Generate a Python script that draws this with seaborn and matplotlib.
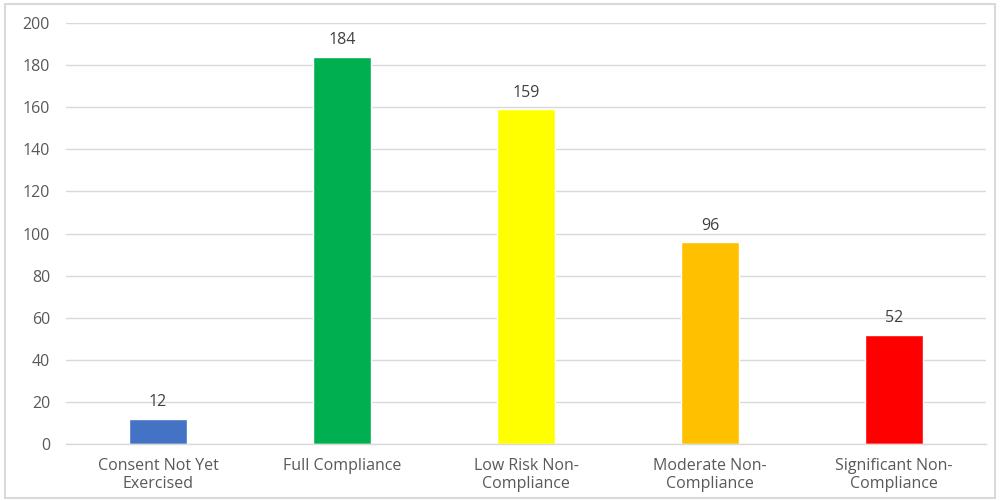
import matplotlib
matplotlib.use("Agg")
import matplotlib.pyplot as plt
import seaborn as sns
import pandas as pd
from matplotlib.patches import Rectangle

categories = ["Consent Not Yet\nExercised", "Full Compliance", "Low Risk Non-\nCompliance",
              "Moderate Non-\nCompliance", "Significant Non-\nCompliance"]
counts = [12, 184, 159, 96, 52]
bar_colors = ["#4472C4", "#00B050", "#FFFF00", "#FFC000", "#FF0000"]
y_ticks = [0, 20, 40, 60, 80, 100, 120, 140, 160, 180, 200]

sns.set_theme(style="white")
plt.rcParams["font.family"] = ["Open Sans", "DejaVu Sans"]

df = pd.DataFrame({"category": categories, "count": counts})

fig = plt.figure(figsize=(10, 5.01), dpi=100)
ax = fig.add_axes([0.066, 0.1138, 0.92, 0.8402])

sns.barplot(data=df, x="category", y="count", hue="category", palette=bar_colors,
            width=0.315, legend=False, ax=ax, saturation=1)

ax.set_ylim(0, 200)
ax.set_yticks(y_ticks)
ax.set_xlim(-0.5, len(categories) - 0.5)
ax.yaxis.grid(True, color="#D9D9D9", linewidth=1)
ax.set_axisbelow(True)
for side in ["left", "right", "top"]:
    ax.spines[side].set_visible(False)
ax.spines["bottom"].set_color("#D9D9D9")
ax.spines["bottom"].set_linewidth(1)
ax.set_xlabel("")
ax.set_ylabel("")
ax.tick_params(axis="both", length=0, colors="#595959", labelsize=11.5)
ax.tick_params(axis="y", pad=11.5)
ax.tick_params(axis="x", pad=10)
for lbl in ax.get_xticklabels():
    lbl.set_linespacing(1.2)

for container in ax.containers:
    ax.bar_label(container, padding=6, fontsize=11.5, color="#404040")

fig.patches.append(Rectangle((0.005, 0.006), 0.99, 0.986, transform=fig.transFigure,
                             fill=False, edgecolor="#D9D9D9", linewidth=1.5))

fig.savefig("out.png", dpi=100)
